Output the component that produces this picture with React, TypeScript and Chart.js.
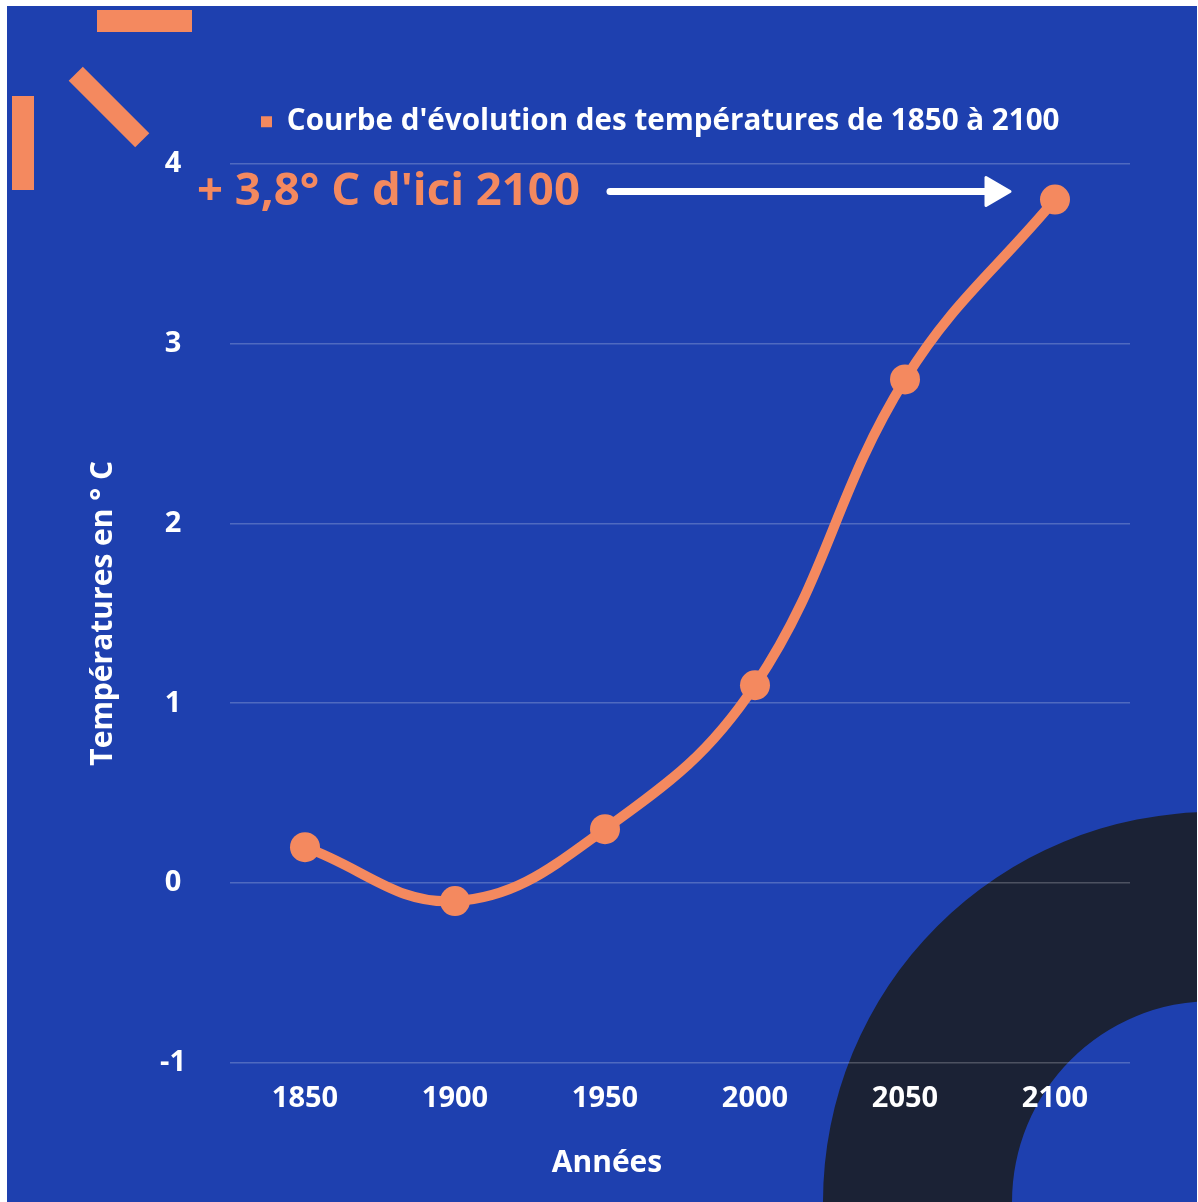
import React, { useEffect, useRef } from 'react';
import { Chart, registerables } from 'chart.js';

Chart.register(...registerables);

const years = ['1850', '1900', '1950', '2000', '2050', '2100'];
const temperatures = [0.2, -0.1, 0.3, 1.1, 2.8, 3.8];
const seriesLabel = "Courbe d'évolution des températures de 1850 à 2100";
const yTitle = 'Températures en ° C';
const xTitle = 'Années';
const annotationText = "+ 3,8° C d'ici 2100";
const yMin = -1;
const yMax = 4;

const BLUE = '#1e40af';
const ORANGE = '#f4895f';
const DARK = '#1b2235';
const WHITE = '#ffffff';
const FONT = '"Open Sans", "DejaVu Sans", sans-serif';

const W = 1198;
const H = 1202;

const decorPlugin = {
  id: 'decor',
  beforeDraw(chart: any) {
    const ctx = chart.ctx;
    ctx.save();
    ctx.fillStyle = WHITE;
    ctx.fillRect(0, 0, W, H);
    ctx.fillStyle = BLUE;
    ctx.fillRect(7, 6, 1190, 1196);
    ctx.beginPath();
    ctx.rect(7, 6, 1190, 1196);
    ctx.clip();
    // dark ring
    ctx.beginPath();
    ctx.arc(1213, 1202, 390, 0, Math.PI * 2);
    ctx.arc(1213, 1202, 201, 0, Math.PI * 2, true);
    ctx.fillStyle = DARK;
    ctx.fill();
    // orange bars
    ctx.fillStyle = ORANGE;
    ctx.fillRect(97, 10, 95, 22);
    ctx.fillRect(12, 96, 22, 94);
    ctx.save();
    ctx.translate(109, 107);
    ctx.rotate(Math.PI / 4);
    ctx.fillRect(-47, -10, 94, 20);
    ctx.restore();
    ctx.restore();
  },
  afterLayout(chart: any) {
    const lg = chart.legend;
    if (lg) {
      lg.left += 251;
      lg.right += 251;
      lg.top -= 17;
      lg.bottom -= 17;
    }
  },
  afterDraw(chart: any) {
    const ctx = chart.ctx;
    const xs = chart.scales.x;
    const ys = chart.scales.y;
    const lastIdx = temperatures.length - 1;
    const yc = ys.getPixelForValue(temperatures[lastIdx]) - 8;
    const tipX = xs.getPixelForValue(lastIdx) - 45;
    ctx.save();
    ctx.font = `bold 45.5px ${FONT}`;
    ctx.fillStyle = ORANGE;
    ctx.textBaseline = 'middle';
    ctx.textAlign = 'left';
    ctx.fillText(annotationText, 197, yc);
    // arrow
    ctx.strokeStyle = WHITE;
    ctx.fillStyle = WHITE;
    ctx.lineWidth = 7;
    ctx.lineCap = 'round';
    ctx.beginPath();
    ctx.moveTo(610, yc);
    ctx.lineTo(tipX - 18, yc);
    ctx.stroke();
    ctx.lineJoin = 'round';
    ctx.lineWidth = 3;
    ctx.beginPath();
    ctx.moveTo(tipX, yc);
    ctx.lineTo(tipX - 24, yc - 14);
    ctx.lineTo(tipX - 24, yc + 14);
    ctx.closePath();
    ctx.fill();
    ctx.stroke();
    // x-axis title
    ctx.font = `bold 30px ${FONT}`;
    ctx.fillStyle = WHITE;
    ctx.textAlign = 'center';
    ctx.textBaseline = 'middle';
    ctx.fillText(xTitle, 607, 1163);
    ctx.restore();
  },
};

export default function App() {
  const ref = useRef<HTMLCanvasElement | null>(null);
  useEffect(() => {
    if (!ref.current) return;
    const chart = new Chart(ref.current, {
      type: 'line',
      data: {
        labels: years,
        datasets: [
          {
            label: seriesLabel,
            data: temperatures,
            borderColor: ORANGE,
            backgroundColor: ORANGE,
            borderWidth: 10,
            tension: 0.4,
            pointRadius: 15,
            pointHoverRadius: 15,
            pointBackgroundColor: ORANGE,
            pointBorderWidth: 0,
            borderCapStyle: 'round',
            borderJoinStyle: 'round',
          },
        ],
      },
      options: {
        responsive: false,
        animation: false,
        devicePixelRatio: 1,
        layout: { padding: { top: 114, right: 68, bottom: 0, left: 0 } },
        plugins: {
          tooltip: { enabled: false },
          legend: {
            display: true,
            position: 'top',
            align: 'start',
            labels: {
              color: WHITE,
              font: { family: FONT, size: 29.6, weight: 'bold' },
              boxWidth: 11,
              boxHeight: 11,
              padding: 10,
              generateLabels: (c: any) =>
                Chart.defaults.plugins.legend.labels
                  .generateLabels(c)
                  .map((l: any) => ({ ...l, lineWidth: 0, fillStyle: ORANGE, strokeStyle: ORANGE })),
            },
          },
        },
        scales: {
          x: {
            type: 'category',
            offset: true,
            grid: { display: false },
            border: { display: false },
            ticks: {
              color: WHITE,
              font: { family: FONT, size: 29, weight: 'bold' },
              padding: 10,
            },
            title: { display: false, text: xTitle },
            afterFit: (s: any) => {
              s.height = 139;
            },
          },
          y: {
            min: yMin,
            max: yMax,
            grid: { color: 'rgba(255,255,255,0.22)', lineWidth: 1.5, drawTicks: false },
            border: { display: false },
            ticks: {
              stepSize: 1,
              color: WHITE,
              font: { family: FONT, size: 29, weight: 'bold' },
              padding: 44,
              crossAlign: 'center',
            },
            title: {
              display: true,
              text: yTitle,
              color: WHITE,
              font: { family: FONT, size: 30, weight: 'bold' },
              padding: { top: 85, bottom: 0 },
            },
            afterFit: (s: any) => {
              s.width = 230;
            },
          },
        },
      },
      plugins: [decorPlugin],
    } as any);
    return () => chart.destroy();
  }, []);
  return (
    <div style={{ position: 'absolute', left: 0, top: 0, width: W, height: H }}>
      <canvas ref={ref} width={W} height={H} style={{ display: 'block', width: W, height: H }} />
    </div>
  );
}
